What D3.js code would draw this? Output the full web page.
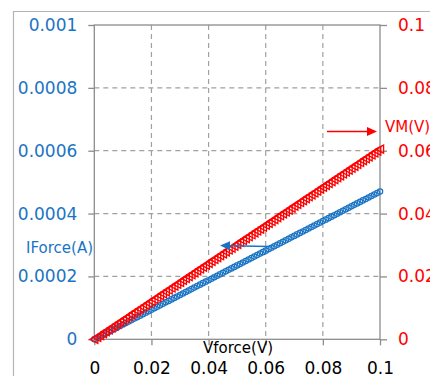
<!DOCTYPE html>
<html><head><meta charset="utf-8">
<script src="https://cdn.jsdelivr.net/npm/d3@7"></script>
<style>html,body{margin:0;padding:0;background:#fff;}svg{display:block;font-family:"DejaVu Sans",Verdana,sans-serif;}</style>
</head><body>
<svg id="c" width="430" height="376"></svg>
<script>
// ---- data ----
const vforce = [0,0.001,0.002,0.003,0.004,0.005,0.006,0.007,0.008,0.009,0.010,0.011,0.012,0.013,0.014,0.015,0.016,0.017,0.018,0.019,0.020,0.021,0.022,0.023,0.024,0.025,0.026,0.027,0.028,0.029,0.030,0.031,0.032,0.033,0.034,0.035,0.036,0.037,0.038,0.039,0.040,0.041,0.042,0.043,0.044,0.045,0.046,0.047,0.048,0.049,0.050,0.051,0.052,0.053,0.054,0.055,0.056,0.057,0.058,0.059,0.060,0.061,0.062,0.063,0.064,0.065,0.066,0.067,0.068,0.069,0.070,0.071,0.072,0.073,0.074,0.075,0.076,0.077,0.078,0.079,0.080,0.081,0.082,0.083,0.084,0.085,0.086,0.087,0.088,0.089,0.090,0.091,0.092,0.093,0.094,0.095,0.096,0.097,0.098,0.099,0.100];
const iforce = [0,47e-7,94e-7,141e-7,188e-7,235e-7,282e-7,329e-7,376e-7,423e-7,470e-7,517e-7,564e-7,611e-7,658e-7,705e-7,752e-7,799e-7,846e-7,893e-7,940e-7,987e-7,1034e-7,1081e-7,1128e-7,1175e-7,1222e-7,1269e-7,1316e-7,1363e-7,1410e-7,1457e-7,1504e-7,1551e-7,1598e-7,1645e-7,1692e-7,1739e-7,1786e-7,1833e-7,1880e-7,1927e-7,1974e-7,2021e-7,2068e-7,2115e-7,2162e-7,2209e-7,2256e-7,2303e-7,2350e-7,2397e-7,2444e-7,2491e-7,2538e-7,2585e-7,2632e-7,2679e-7,2726e-7,2773e-7,2820e-7,2867e-7,2914e-7,2961e-7,3008e-7,3055e-7,3102e-7,3149e-7,3196e-7,3243e-7,3290e-7,3337e-7,3384e-7,3431e-7,3478e-7,3525e-7,3572e-7,3619e-7,3666e-7,3713e-7,3760e-7,3807e-7,3854e-7,3901e-7,3948e-7,3995e-7,4042e-7,4089e-7,4136e-7,4183e-7,4230e-7,4277e-7,4324e-7,4371e-7,4418e-7,4465e-7,4512e-7,4559e-7,4606e-7,4653e-7,4700e-7];
const vm = [0,605e-6,1210e-6,1815e-6,2420e-6,3025e-6,3630e-6,4235e-6,4840e-6,5445e-6,6050e-6,6655e-6,7260e-6,7865e-6,8470e-6,9075e-6,9680e-6,10285e-6,10890e-6,11495e-6,12100e-6,12705e-6,13310e-6,13915e-6,14520e-6,15125e-6,15730e-6,16335e-6,16940e-6,17545e-6,18150e-6,18755e-6,19360e-6,19965e-6,20570e-6,21175e-6,21780e-6,22385e-6,22990e-6,23595e-6,24200e-6,24805e-6,25410e-6,26015e-6,26620e-6,27225e-6,27830e-6,28435e-6,29040e-6,29645e-6,30250e-6,30855e-6,31460e-6,32065e-6,32670e-6,33275e-6,33880e-6,34485e-6,35090e-6,35695e-6,36300e-6,36905e-6,37510e-6,38115e-6,38720e-6,39325e-6,39930e-6,40535e-6,41140e-6,41745e-6,42350e-6,42955e-6,43560e-6,44165e-6,44770e-6,45375e-6,45980e-6,46585e-6,47190e-6,47795e-6,48400e-6,49005e-6,49610e-6,50215e-6,50820e-6,51425e-6,52030e-6,52635e-6,53240e-6,53845e-6,54450e-6,55055e-6,55660e-6,56265e-6,56870e-6,57475e-6,58080e-6,58685e-6,59290e-6,59895e-6,60500e-6];
const xTicks = [0,0.02,0.04,0.06,0.08,0.1];
const xTickLabels = ["0","0.02","0.04","0.06","0.08","0.1"];
const yLeftTicks = [0,0.0002,0.0004,0.0006,0.0008,0.001];
const yLeftTickLabels = ["0","0.0002","0.0004","0.0006","0.0008","0.001"];
const yRightTicks = [0,0.02,0.04,0.06,0.08,0.1];
const yRightTickLabels = ["0","0.02","0.04","0.06","0.08","0.1"];
const xTitle = "Vforce(V)", yLeftTitle = "IForce(A)", yRightTitle = "VM(V)";

// ---- layout ----
const L = 94.3, R = 380, T = 25, B = 339.3;
const BLUE = "#1a74c4", RED = "#ff0000", AX = "#8c8c8c", GRID = "#a0a0a0";
const FS = 17;
const svg = d3.select("#c");
const x = d3.scaleLinear().domain([0,0.1]).range([L,R]);
const yL = d3.scaleLinear().domain([0,0.001]).range([B,T]);
const yR = d3.scaleLinear().domain([0,0.1]).range([B,T]);

// outer chart border
svg.append("path").attr("d",`M13.5,376 V11.5 H430`).attr("fill","none").attr("stroke","#b4b4b4").attr("stroke-width",1.2);

// grid
const g = svg.append("g");
g.selectAll(".hg").data(yLeftTicks.filter(d=>d>0 && d<0.001)).join("line")
  .attr("x1",L).attr("x2",R).attr("y1",d=>yL(d)).attr("y2",d=>yL(d))
  .attr("stroke",GRID).attr("stroke-width",1.2).attr("stroke-dasharray","5,4");
g.selectAll(".vg").data(xTicks.filter(d=>d>0 && d<0.1)).join("line")
  .attr("y1",T).attr("y2",B).attr("x1",d=>x(d)).attr("x2",d=>x(d))
  .attr("stroke",GRID).attr("stroke-width",1.2).attr("stroke-dasharray","5,4");

// axes
function styleAxis(sel, color){
  sel.select(".domain").remove();
  sel.selectAll(".tick line").attr("stroke",AX).attr("stroke-width",1.3);
  sel.selectAll(".tick text").attr("fill",color).style("font-size",FS+"px").style("font-family","DejaVu Sans");
}
const ax1 = svg.append("g").attr("transform",`translate(${L},0)`)
  .call(d3.axisLeft(yL).tickValues(yLeftTicks).tickSize(6).tickPadding(11).tickFormat((d,i)=>yLeftTickLabels[i]));
styleAxis(ax1, BLUE);
const ax2 = svg.append("g").attr("transform",`translate(${R},0)`)
  .call(d3.axisRight(yR).tickValues(yRightTicks).tickSize(7).tickPadding(11).tickFormat((d,i)=>yRightTickLabels[i]));
styleAxis(ax2, RED);
const ax3 = svg.append("g").attr("transform",`translate(0,${B})`)
  .call(d3.axisBottom(x).tickValues(xTicks).tickSize(6).tickPadding(17).tickFormat((d,i)=>xTickLabels[i]));
styleAxis(ax3, "#000");

// frame
svg.append("rect").attr("x",L).attr("y",T).attr("width",R-L).attr("height",B-T)
  .attr("fill","none").attr("stroke",AX).attr("stroke-width",1.3);

// series
const pts = vforce.map((v,i)=>({v, i: iforce[i], m: vm[i]}));
svg.append("g").selectAll("circle").data(pts).join("circle")
  .attr("cx",d=>x(d.v)).attr("cy",d=>yL(d.i)).attr("r",2.7)
  .attr("fill","none").attr("stroke",BLUE).attr("stroke-width",1.25);
svg.append("g").selectAll("path").data(pts).join("path")
  .attr("transform",d=>`translate(${x(d.v)},${yR(d.m)})`)
  .attr("d","M-4.5,0 L3.6,-4.1 L3.6,4.1 Z")
  .attr("fill","none").attr("stroke",RED).attr("stroke-width",1.3);

// titles
svg.append("text").attr("x",238).attr("y",353).attr("text-anchor","middle")
  .style("font-size","15px").attr("fill","#000").text(xTitle);
svg.append("text").attr("x",93).attr("y",253).attr("text-anchor","end")
  .style("font-size","15px").attr("fill",BLUE).text(yLeftTitle);
svg.append("text").attr("x",385).attr("y",132).attr("text-anchor","start")
  .style("font-size","15px").attr("fill",RED).text(yRightTitle);

// arrows
function arrow(x1,y1,x2,y2,color){
  const ang = Math.atan2(y2-y1,x2-x1), hl = 10, hw = 4.5;
  const bx = x2 - hl*Math.cos(ang), by = y2 - hl*Math.sin(ang);
  svg.append("line").attr("x1",x1).attr("y1",y1).attr("x2",bx).attr("y2",by)
    .attr("stroke",color).attr("stroke-width",1.5);
  const px = -Math.sin(ang)*hw, py = Math.cos(ang)*hw;
  svg.append("path").attr("d",`M${x2},${y2} L${bx+px},${by+py} L${bx-px},${by-py} Z`).attr("fill",color);
}
arrow(327,131.5,377,131.5,RED);
arrow(269,246.5,220,245.5,BLUE);
</script>
</body></html>
